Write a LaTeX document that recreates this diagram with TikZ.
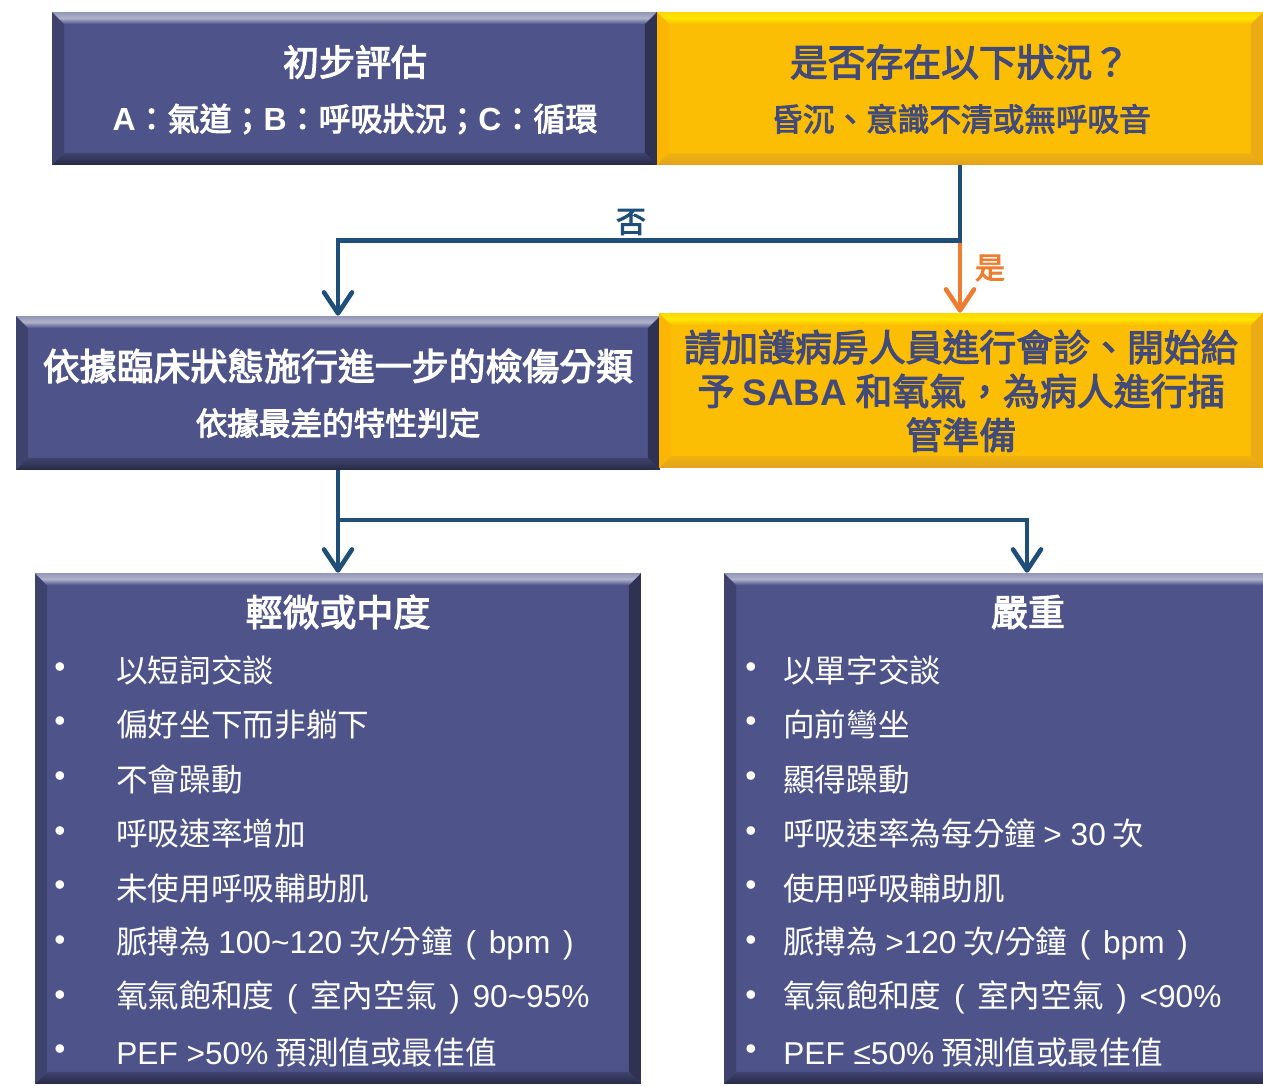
\documentclass[tikz,border=0pt]{standalone}
\usepackage{fontspec}
\setmainfont{Noto Sans CJK TC}
\newfontfamily\headfont{Noto Sans CJK TC}[FakeBold=3]
\newfontfamily\latfont{Liberation Sans}
\newcommand{\en}[1]{{\latfont #1}}
\newcommand{\enb}[1]{{\latfont\bfseries #1}}
\newcommand{\gap}{\hspace{0.4em}}
\usetikzlibrary{calc,arrows.meta}
\definecolor{boxblue}{RGB}{78,84,138}
\definecolor{boxgold}{RGB}{252,190,4}
\definecolor{goldtext}{RGB}{66,74,122}
\definecolor{linkblue}{RGB}{31,78,121}
\definecolor{yesorange}{RGB}{237,125,49}
\def\bevw{0.24cm}
\tikzset{
  bevel/.style n args={5}{path picture={
    \coordinate (pNW) at (path picture bounding box.north west);
    \coordinate (pNE) at (path picture bounding box.north east);
    \coordinate (pSW) at (path picture bounding box.south west);
    \coordinate (pSE) at (path picture bounding box.south east);
    \fill[#3] (pNW) -- ($(pNW)+(\bevw,-\bevw)$) -- ($(pSW)+(\bevw,\bevw)$) -- (pSW) -- cycle;
    \fill[#4] (pNE) -- ($(pNE)+(-\bevw,-\bevw)$) -- ($(pSE)+(-\bevw,\bevw)$) -- (pSE) -- cycle;
    \shade[top color=#1!70!#5, bottom color=#5, middle color=#1]
      (pNW) -- (pNE) -- ($(pNE)+(-\bevw,-\bevw)$) -- ($(pNW)+(\bevw,-\bevw)$) -- cycle;
    \shade[top color=#2!40!#5, bottom color=#2]
      (pSW) -- (pSE) -- ($(pSE)+(-\bevw,\bevw)$) -- ($(pSW)+(\bevw,\bevw)$) -- cycle;
  }}
}

\begin{document}
\begin{tikzpicture}[x=0.02cm,y=-0.02cm]
\tikzstyle{bluebox}=[rectangle,inner sep=0pt,fill=boxblue,
  bevel={boxblue!45!white}{boxblue!50!black}{boxblue!80!black}{boxblue!60!black}{boxblue}]
\tikzstyle{goldbox}=[rectangle,inner sep=0pt,fill=boxgold,
  bevel={yellow!60!boxgold}{boxgold!55!brown}{boxgold!85!orange}{boxgold!70!brown}{boxgold}]
\tikzstyle{head}=[inner sep=0pt,align=center,font=\headfont\fontsize{20.5}{24}\selectfont]
\tikzstyle{sub}=[inner sep=0pt,align=center,font=\headfont\fontsize{18}{22}\selectfont]
\tikzstyle{item}=[inner sep=0pt,anchor=west,text=white,font=\fontsize{18}{22}\selectfont]
\tikzstyle{dot}=[inner sep=0pt,text=white,font=\latfont\fontsize{18}{22}\selectfont]
\tikzstyle{link}=[linkblue,line width=2.6pt,-{Straight Barb[round,length=0.42cm,width=0.56cm]}]
\tikzstyle{yeslink}=[yesorange,line width=2.6pt,-{Straight Barb[round,length=0.42cm,width=0.56cm]}]

\useasboundingbox (0,0) rectangle (1263,1085);
\clip (0,0) rectangle (1263,1085);

% boxes
\node[bluebox,minimum width=12.1cm,minimum height=3.06cm] (init) at (354.5,88.5) {};
\node[goldbox,minimum width=12.12cm,minimum height=3.06cm] (check) at (960,88.5) {};
\node[bluebox,minimum width=12.88cm,minimum height=3.08cm] (triage) at (338,393) {};
\node[goldbox,minimum width=12.08cm,minimum height=3.1cm] (icu) at (961,390.5) {};
\node[bluebox,minimum width=12.12cm,minimum height=10.22cm] (mild) at (338,828.5) {};
\node[bluebox,minimum width=12.12cm,minimum height=10.22cm] (severe) at (1027,828.5) {};

% box texts
\node[head,text=white] (initT) at (355,62) {初步評估};
\node[sub,text=white,font=\headfont\fontsize{18.2}{22}\selectfont] (initS) at (355,119)
  {\enb{A}：氣道；\enb{B}：呼吸狀況；\enb{C}：循環};
\node[head,text=goldtext,font=\headfont\fontsize{21.5}{24}\selectfont] (checkT) at (960,62) {是否存在以下狀況？};
\node[sub,text=goldtext] (checkS) at (961,119) {昏沉、意識不清或無呼吸音};
\node[head,text=white,font=\headfont\fontsize{21}{24}\selectfont] (triageT) at (338,366)
  {依據臨床狀態施行進一步的檢傷分類};
\node[sub,text=white] (triageS) at (338,423) {依據最差的特性判定};
\node[head,text=goldtext,font=\headfont\fontsize{21}{25}\selectfont] (icuT) at (961,391)
  {請加護病房人員進行會診、開始給\\予 \enb{SABA} 和氧氣，為病人進行插\\管準備};
\node[head,text=white,font=\headfont\fontsize{21}{24}\selectfont] (mildT) at (338,612) {輕微或中度};
\node[head,text=white,font=\headfont\fontsize{21}{24}\selectfont] (severeT) at (1028,612) {嚴重};

\foreach \itm [count=\i] in {{以短詞交談},{偏好坐下而非躺下},{不會躁動},{呼吸速率增加},
    {未使用呼吸輔助肌},{脈搏為 \en{100\textasciitilde120} 次\en{/}分鐘\en{\gap(\gap bpm\gap)}},
    {氧氣飽和度\en{\gap(\gap}室內空氣\en{\gap)\gap 90\textasciitilde95\%}},{\en{PEF >50\%} 預測值或最佳值}}{
  \node[dot] (md\i) at (60,{670+54.6*(\i-1)}) {•};
  \node[item] (mt\i) at (116,{670+54.6*(\i-1)}) {\itm};
}
\foreach \itm [count=\i] in {{以單字交談},{向前彎坐},{顯得躁動},{呼吸速率為每分鐘 \en{> 30} 次},
    {使用呼吸輔助肌},{脈搏為 \en{>120} 次\en{/}分鐘\en{\gap(\gap bpm\gap)}},
    {氧氣飽和度\en{\gap(\gap}室內空氣\en{\gap)\gap <90\%}},{\en{PEF ≤50\%} 預測值或最佳值}}{
  \node[dot] (sd\i) at (751,{670+54.6*(\i-1)}) {•};
  \node[item] (st\i) at (783,{670+54.6*(\i-1)}) {\itm};
}

% connectors
\draw[link] (check.south) -- ++(0,75) coordinate (split) -| (triage.north);
\node[inner sep=0pt,text=linkblue,font=\headfont\fontsize{17}{20}\selectfont] (no) at (631,222) {否};
\draw[yeslink,shorten <=1.3pt] (split) -- (split |- icu.north);
\node[inner sep=0pt,text=yesorange,font=\headfont\fontsize{17}{20}\selectfont] (yes) at (990,268) {是};
\draw[link] (triage.south) -- (mild.north);
\draw[link] ($(triage.south)!0.485!(mild.north)$) coordinate (fork) -| (severe.north);

\end{tikzpicture}
\end{document}
